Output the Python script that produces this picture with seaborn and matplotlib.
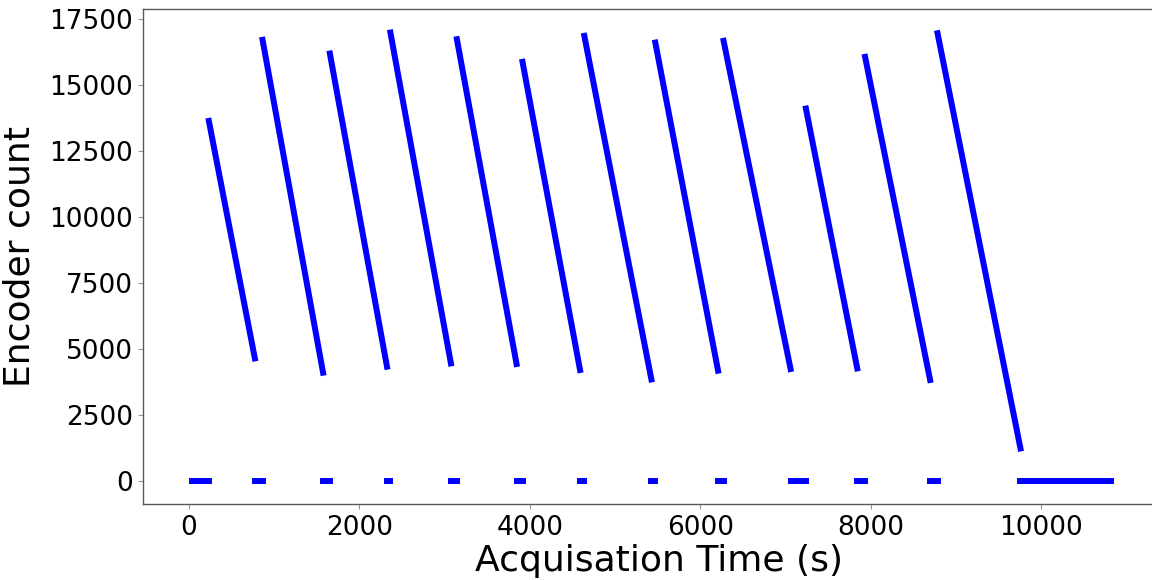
import numpy as np
import pandas as pd
import matplotlib
matplotlib.use("Agg")
import matplotlib.pyplot as plt
import seaborn as sns

# ---- data ----
# periods where the encoder count sits at zero (start, end) in seconds
zero_start = [35, 775, 1575, 2325, 3075, 3845, 4590, 5427, 6209, 7060, 7842, 8697, 9757]
zero_end = [235, 865, 1655, 2365, 3145, 3915, 4640, 5473, 6274, 7240, 7934, 8784, 10819]
# descending sweeps: time and count at top and bottom
sweep_t_top = [235, 865, 1655, 2365, 3145, 3915, 4640, 5473, 6274, 7240, 7934, 8784]
sweep_t_bottom = [775, 1575, 2325, 3075, 3845, 4590, 5427, 6209, 7060, 7842, 8697, 9757]
sweep_top = [13640, 16707, 16188, 16983, 16730, 15874, 16858, 16605, 16669, 14107, 16063, 16957]
sweep_bottom = [4655, 4114, 4341, 4466, 4444, 4216, 3861, 4190, 4254, 4277, 3838, 1249]

x_ticks = [0, 2000, 4000, 6000, 8000, 10000]
y_ticks = [0, 2500, 5000, 7500, 10000, 12500, 15000, 17500]

rows = []
for i, (a, b) in enumerate(zip(zero_start, zero_end)):
    rows.append({"seg": f"z{i}", "t": a, "c": 0})
    rows.append({"seg": f"z{i}", "t": b, "c": 0})
for i in range(len(sweep_top)):
    rows.append({"seg": f"s{i}", "t": sweep_t_top[i], "c": sweep_top[i]})
    rows.append({"seg": f"s{i}", "t": sweep_t_bottom[i], "c": sweep_bottom[i]})
df = pd.DataFrame(rows)

sns.set_style("white")
plt.rcParams["font.family"] = ["DejaVu Sans"]
plt.rcParams["text.color"] = "black"
plt.rcParams["axes.labelcolor"] = "black"

fig = plt.figure(figsize=(11.52, 5.80), dpi=100)
W, H = 1152, 580
left, right, top, bottom = 143.3, 1175, 8.9, 504.4
ax = fig.add_axes([left / W, (H - bottom) / H, (right - left) / W, (bottom - top) / H])

sns.lineplot(data=df, x="t", y="c", units="seg", estimator=None, sort=False,
             color="blue", linewidth=4.3, ax=ax, legend=False)
for ln in ax.lines:
    ln.set_solid_capstyle("projecting")

ax.set_xlim(-534, 11570)
ax.set_ylim(-869, 17878)
ax.set_xticks(x_ticks)
ax.set_yticks(y_ticks)
ax.tick_params(axis="both", labelsize=19, length=3.5, width=0.8, color="0.6",
               bottom=True, left=True, labelcolor="black", pad=4)
for s in ax.spines.values():
    s.set_color("0.35")
    s.set_linewidth(1.0)
ax.set_xlabel("Acquisation Time (s)", fontsize=26, labelpad=2)
ax.set_ylabel("Encoder count", fontsize=26, labelpad=9)

fig.savefig("out.png", dpi=100)
